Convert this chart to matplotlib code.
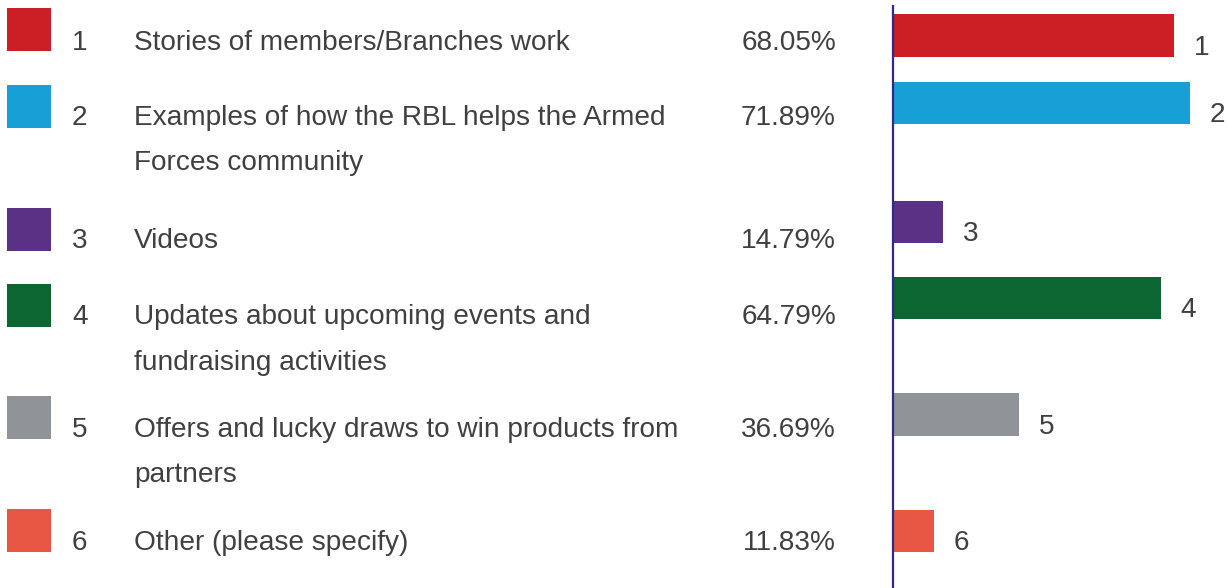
import matplotlib
matplotlib.use("Agg")
import matplotlib.pyplot as plt
from matplotlib.patches import Rectangle

plt.rcParams['font.family'] = ['Liberation Sans', 'DejaVu Sans']

# data
numbers = ['1', '2', '3', '4', '5', '6']
labels = ['Stories of members/Branches work',
          'Examples of how the RBL helps the Armed\nForces community',
          'Videos',
          'Updates about upcoming events and\nfundraising activities',
          'Offers and lucky draws to win products from\npartners',
          'Other (please specify)']
percents = [68.05, 71.89, 14.79, 64.79, 36.69, 11.83]
# bar lengths as drawn in the reference (same units as percent)
bar_lengths = [68.05, 71.89, 11.9, 64.79, 30.4, 9.7]
colors = ['#CB1E25', '#17A0D6', '#5B3185', '#0C6632', '#909498', '#E85744']

# layout (pixels from top of figure)
W, H = 1228, 588
row_centers = [35.5, 103, 222, 298, 414.5, 531]
text_baselines = [50, 125, 248, 324, 437, 550]
square_tops = [8, 85, 208, 284, 396, 509]
line_gap = 45.5
text_color = '#404040'
fs = 20.2

fig = plt.figure(figsize=(W / 100, H / 100), dpi=100)

# background axes in pixel coordinates for the table part
bg = fig.add_axes([0, 0, 1, 1])
bg.set_xlim(0, W)
bg.set_ylim(H, 0)
bg.axis('off')

for i in range(len(numbers)):
    bg.add_patch(Rectangle((7, square_tops[i]), 44, 43, color=colors[i], lw=0))
    bg.text(72, text_baselines[i], numbers[i], fontsize=fs, color=text_color, va='baseline')
    for j, line in enumerate(labels[i].split('\n')):
        bg.text(134, text_baselines[i] + j * line_gap, line, fontsize=fs,
                color=text_color, va='baseline')
    bg.text(836, text_baselines[i], '%.2f%%' % percents[i], fontsize=fs,
            color=text_color, va='baseline', ha='right')

# bar axes
x0 = 893
ax = fig.add_axes([x0 / W, 0, (W - x0) / W, (H - 6) / H])
ax.set_ylim(H, 6)
ax.set_xlim(0, (W - x0) / 4.115)
ax.barh(row_centers, bar_lengths, height=42.5, color=colors, left=0.3)
for i in range(len(numbers)):
    ax.annotate(numbers[i], xy=(bar_lengths[i], row_centers[i]), xytext=(15, -14),
                textcoords='offset points', fontsize=fs, color=text_color, va='baseline')

for s in ['top', 'right', 'bottom']:
    ax.spines[s].set_visible(False)
ax.spines['left'].set_color('#2E2A85')
ax.spines['left'].set_linewidth(1.6)
ax.set_xticks([])
ax.set_yticks([])
ax.patch.set_alpha(0)

fig.savefig('out.png', dpi=100)
